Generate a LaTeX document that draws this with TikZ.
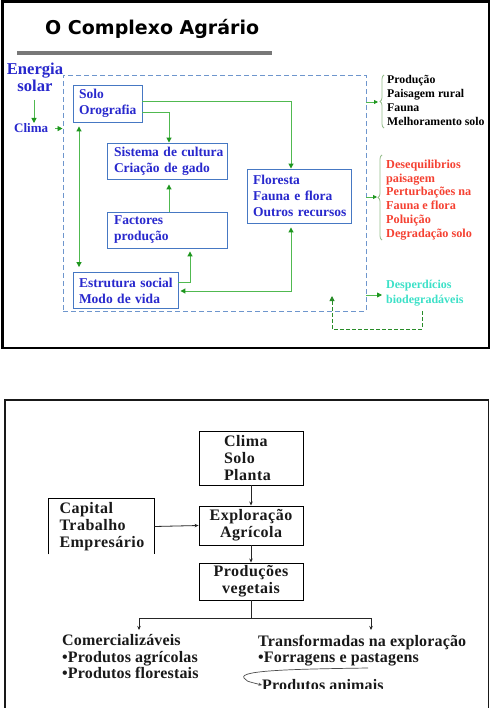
\documentclass[tikz,border=0pt]{standalone}
\usepackage{fontspec}
\setmainfont{Liberation Serif}
\newfontfamily\titlefont{DejaVu Sans}
\usetikzlibrary{arrows.meta,decorations.pathreplacing,calc}
\definecolor{txtblue}{RGB}{40,40,205}
\definecolor{boxblue}{RGB}{70,120,195}
\definecolor{dashblue}{RGB}{110,150,205}
\definecolor{gline}{RGB}{80,185,80}
\definecolor{ghead}{RGB}{30,150,30}
\definecolor{redtxt}{RGB}{245,65,50}
\definecolor{cyantxt}{RGB}{60,225,200}
\definecolor{bracec}{RGB}{150,190,140}
\definecolor{darkg}{RGB}{40,140,40}
\definecolor{titlebar}{RGB}{120,120,120}
\definecolor{btxt}{RGB}{25,25,25}
\tikzset{
  bbox/.style={draw=boxblue, line width=0.9pt, inner sep=0pt, align=left,
    text=txtblue, font=\fontsize{13.5}{16}\selectfont\bfseries},
  dbox/.style={draw=dashblue, line width=0.9pt, dash pattern=on 5pt off 3pt, inner sep=0pt},
  garrow/.style={draw=gline, line width=1pt, -{Triangle[length=5pt,width=5pt,color=ghead]}},
  gdarrow/.style={draw=gline, line width=1pt, {Triangle[length=5pt,width=5pt,color=ghead]}-{Triangle[length=5pt,width=5pt,color=ghead]}},
  gdash/.style={draw=darkg, line width=0.9pt, dash pattern=on 4pt off 2pt, -{Triangle[length=5pt,width=5pt,color=darkg]}},
  brc/.style={draw=bracec, line width=0.8pt, decorate, decoration={brace, amplitude=4pt}},
  kbox/.style={draw=black, line width=0.9pt, inner sep=0pt, text=btxt,
    font=\fontsize{16}{17}\selectfont\bfseries\addfontfeature{LetterSpace=3}},
  ktext/.style={inner sep=0pt, align=left, text=btxt,
    font=\fontsize{16}{16.5}\selectfont\bfseries\addfontfeature{LetterSpace=1}},
  barrow/.style={draw=black!85, line width=0.8pt, -{Stealth[length=4pt,width=3.5pt]}},
}
\begin{document}
\begin{tikzpicture}[x=1pt,y=-1pt]
\useasboundingbox (0,0) rectangle (491,708);
\fill[white] (0,0) rectangle (491,708);
% ---------- top panel ----------
\draw[black, line width=2.5pt] (2.5,1.5) rectangle (489,348);
\node[anchor=base west, inner sep=0pt, font=\titlefont\fontsize{19}{22}\selectfont\bfseries] (title) at (45,35) {O Complexo Agrário};
\draw[titlebar, line width=4pt] (17,53) -- (272,53);

\node[anchor=north, inner sep=0pt, align=center, text=txtblue, font=\fontsize{16.6}{17.5}\selectfont\bfseries] (esol) at (35,62.5) {Energia\\solar};
\node[anchor=base west, inner sep=0pt, text=txtblue, font=\fontsize{13}{15}\selectfont\bfseries] (clima) at (14,133) {Clima};

\node[dbox, minimum width=303pt, minimum height=236pt] (sys) at (214.5,193) {};

\node[bbox, minimum width=69pt, minimum height=37pt, text width=57pt] (solo) at (107.5,103.5) {\mbox{Solo}\\\mbox{Orografia}};
\node[bbox, minimum width=120pt, minimum height=36pt, text width=106pt] (sist) at (167,161) {\mbox{Sistema de cultura}\\\mbox{Criação de gado}};
\node[bbox, minimum width=120pt, minimum height=36pt, text width=106pt] (fact) at (167,230) {\mbox{Factores}\\\mbox{produção}};
\node[bbox, minimum width=105pt, minimum height=36pt, text width=93pt] (estr) at (125.5,290.5) {\mbox{Estrutura social}\\\mbox{Modo de vida}};
\node[bbox, minimum width=104pt, minimum height=54pt, text width=92pt] (flor) at (299,196) {\mbox{Floresta}\\\mbox{Fauna e flora}\\\mbox{Outros recursos}};

% arrows inside
\coordinate (esolA) at (34,100);
\coordinate (esolB) at (34,123);
\draw[garrow] (esolA) -- (esolB);
\draw[garrow, shorten <=7pt, line width=0.8pt] (clima.east) -- (clima.east -| sys.west);
\draw[garrow] (solo.east |- 0,102) -| (flor.north -| 291,0);
\draw[garrow] (solo.east |- 0,113) -| (sist.north -| 169,0);
\draw[gdarrow, shorten <=4pt, shorten >=5pt] (solo.south -| 79,0) -- (estr.north -| 79,0);
\draw[garrow, shorten >=5pt] (fact.north -| 169,0) -- (sist.south -| 169,0);
\draw[garrow, shorten >=3pt] (estr.east |- 0,282) -| (fact.south -| 190,0);
\draw[gdarrow, shorten <=2pt, shorten >=4pt] (estr.east |- 0,291) -| (flor.south -| 291,0);

% right side groups
\node[anchor=north west, inner sep=0pt, align=left, text=black, font=\fontsize{11.8}{14}\selectfont\bfseries] (out1) at (387,75) {Produção\\Paisagem rural\\Fauna\\Melhoramento solo};
\node[anchor=north west, inner sep=0pt, align=left, text=redtxt, font=\fontsize{12.2}{13.8}\selectfont\bfseries] (out2) at (386,159.7) {Desequilibrios\\paisagem\\Perturbações na\\Fauna e flora\\Poluição\\Degradação solo};
\node[anchor=north west, inner sep=0pt, align=left, text=cyantxt, font=\fontsize{12}{15}\selectfont\bfseries] (desp) at (386,279.8) {Desperdícios\\biodegradáveis};

\draw[brc] (384,128) -- (384,75);
\draw[brc] (382,240) -- (382,155);
\coordinate (b1) at (378,102);
\coordinate (b2) at (377,197);
\draw[garrow, line width=0.8pt, -{Triangle[length=4pt,width=4pt,color=ghead]}] (sys.east |- b1) -- (b1);
\draw[garrow, line width=0.8pt, -{Triangle[length=4pt,width=4pt,color=ghead]}] (sys.east |- b2) -- (b2);
\draw[garrow, line width=0.8pt, shorten >=4pt] (sys.east |- 0,295) -- (desp.west |- 0,295);
\coordinate (dret) at (422,329);
\coordinate (rettip) at (332,296);
\draw[gdash, shorten <=5pt] (desp.south -| dret) -- (dret) -| (rettip);

% ---------- bottom panel ----------
\draw[black!90, line width=1.8pt] (5,720) -- (5,400) -- (488.5,400) -- (488.5,720);

\node[kbox, minimum width=104pt, minimum height=54pt, text width=54pt, align=left] (bclima) at (251,458) {Clima\\Solo\\Planta};
\node[kbox, minimum width=104pt, minimum height=39pt, align=center] (expl) at (251,525.5) {Exploração\\Agrícola};
\node[kbox, minimum width=104pt, minimum height=37pt, align=center] (prod) at (251,581.5) {Produções\\vegetais};
\node[kbox, draw=none, minimum width=105pt, minimum height=55pt, text width=84pt, align=left] (cap) at (101.5,526.5) {Capital\\Trabalho\\Empresário};
\draw[black, line width=0.9pt] (cap.south west) -- (cap.north west) -- (cap.north east) -- (cap.south east);

\draw[barrow] (bclima.south) -- (expl.north);
\draw[barrow] (cap.east) -- (expl.west);
\draw[barrow] (expl.south) -- (prod.north);
\coordinate (bl) at (139,630);
\coordinate (br) at (371,630);
\draw[barrow] (prod.south) -- ++(0,17.5) -| (bl);
\draw[barrow] (prod.south) -- ++(0,17.5) -| (br);

\node[ktext, anchor=north west] (com) at (62,634.6) {Comercializáveis\\•Produtos agrícolas\\•Produtos florestais};
\node[ktext, anchor=north west] (trans) at (258,634.6) {Transformadas na exploração\\•Forragens e pastagens};
\begin{scope}
\clip (0,0) rectangle (491,688.5);
\node[ktext, anchor=base west] (anim) at (262,690.5) {Produtos animais};
\end{scope}
\coordinate (cstart) at (368,668);
\draw[draw=black!70, line width=0.7pt, -{Stealth[length=3.5pt,width=3pt]}] (cstart) .. controls (300,669) and (238,670) .. (244,678) .. controls (246,681) .. (anim.west);
\end{tikzpicture}
\end{document}
